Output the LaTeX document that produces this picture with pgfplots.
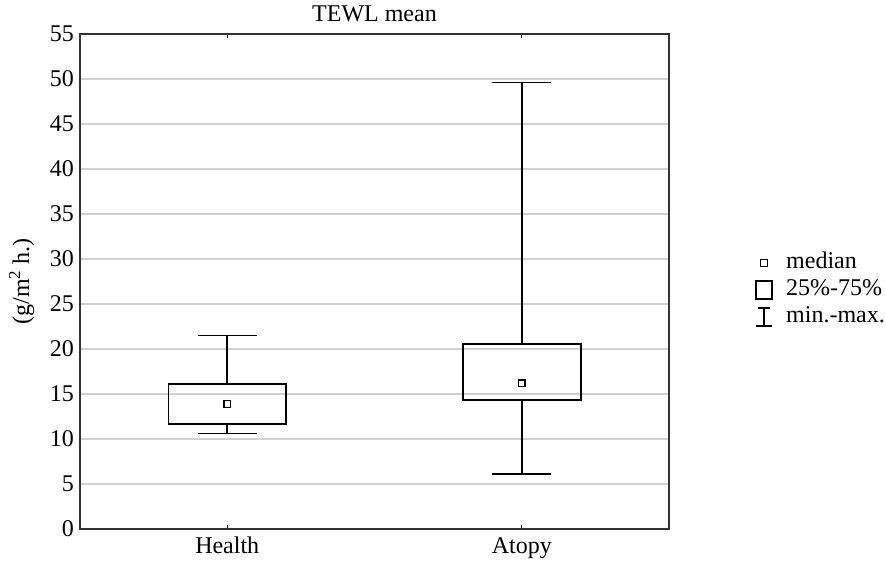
\documentclass[border=0pt]{standalone}
\usepackage{fontspec}
\setmainfont{Liberation Serif}
\usepackage{pgfplots}
\pgfplotsset{compat=1.18}

\newcommand{\bigfont}{\fontsize{24}{28}\selectfont}
\pgfplotsset{bx/.style={black, mark=none, line width=1.7pt, line join=miter, forget plot}}

\begin{document}
\begin{tikzpicture}
\useasboundingbox (-80pt,-31pt) rectangle (805pt,529pt);
\begin{axis}[
    scale only axis,
    width=589pt, height=495pt,
    xmin=-0.5, xmax=1.5,
    ymin=0, ymax=55,
    xtick={0,1},
    xticklabels={Health, Atopy},
    ytick={0,5,...,55},
    /pgf/number format/assume math mode=true,
    tick label style={font=\bigfont},
    xticklabel style={inner sep=0pt, yshift=-8pt},
    yticklabel style={inner sep=0pt, xshift=-6pt},
    ytick style={draw=none},
    xtick style={black, line width=1pt},
    major tick length=4pt,
    tick align=inside,
    ymajorgrids,
    major grid style={color=black!18, line width=1.3pt},
    axis line style={color=black!80, line width=1.7pt},
    title={TEWL mean},
    title style={font=\bigfont, at={(0.5,1)}, anchor=south, inner sep=0pt, yshift=6pt},
    ylabel={(g/m\textsuperscript{2} h.)},
    ylabel style={font=\bigfont},
    ylabel shift=12pt,
    legend style={font=\bigfont, draw=none, fill=none, at={(1,0.483)}, anchor=west,
        xshift=86pt, inner sep=0pt, row sep=1pt,
        nodes={inner sep=2pt, text height=17pt, text depth=5pt}},
    legend cell align=left,
]
\addlegendimage{legend image code/.code={\draw[black, line width=1.6pt] (4.5pt,-3.5pt) rectangle (11.5pt,3.5pt); \path (0pt,0pt) (28pt,0pt);}}
\addlegendentry{median}
\addlegendimage{legend image code/.code={\draw[black, line width=1.6pt] (0pt,-9pt) rectangle (16pt,9pt); \path (0pt,0pt) (28pt,0pt);}}
\addlegendentry{25\%-75\%}
\addlegendimage{legend image code/.code={\draw[black, line width=1.6pt] (8pt,-9pt) -- (8pt,9pt) (2pt,9pt) -- (14pt,9pt) (0pt,-9pt) -- (16pt,-9pt); \path (0pt,0pt) (28pt,0pt);}}
\addlegendentry{min.-max.}

% Health: min 10.6, Q1 11.7, median 13.9, Q3 16.1, max 21.5
\addplot[bx] coordinates {(0,10.6) (0,11.7)};
\addplot[bx] coordinates {(0,16.1) (0,21.5)};
\addplot[bx] coordinates {(-0.1,10.6) (0.1,10.6)};
\addplot[bx] coordinates {(-0.1,21.5) (0.1,21.5)};
\addplot[bx] coordinates {(-0.2,11.7) (0.2,11.7) (0.2,16.1) (-0.2,16.1)} -- cycle;

% Atopy: min 6.1, Q1 14.3, median 16.2, Q3 20.55, max 49.6
\addplot[bx] coordinates {(1,6.1) (1,14.3)};
\addplot[bx] coordinates {(1,20.55) (1,49.6)};
\addplot[bx] coordinates {(0.9,6.1) (1.1,6.1)};
\addplot[bx] coordinates {(0.9,49.6) (1.1,49.6)};
\addplot[bx] coordinates {(0.8,14.3) (1.2,14.3) (1.2,20.55) (0.8,20.55)} -- cycle;

% medians
\addplot[black, forget plot, only marks, mark=square, mark size=3.4pt,
    mark options={line width=1.5pt}] coordinates {(0,13.9) (1,16.2)};
\end{axis}
\end{tikzpicture}
\end{document}
